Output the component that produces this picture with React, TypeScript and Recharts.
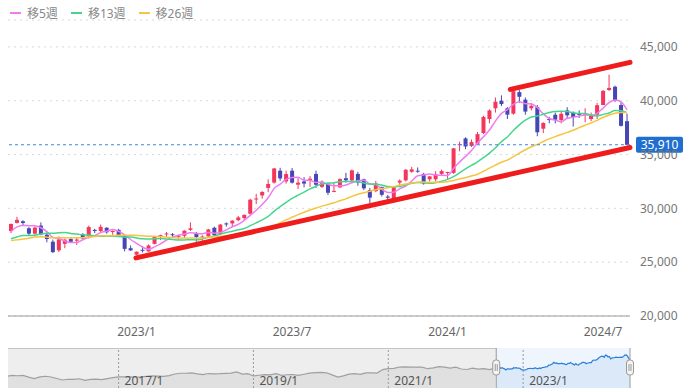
import {
  ComposedChart, Bar, Line, XAxis, YAxis, CartesianGrid, ReferenceLine,
  AreaChart, Area, ReferenceArea,
} from 'recharts'

// 週足 2022/8 - 2024/8
const weeks = [
  '2022-08-12', '2022-08-19', '2022-08-26', '2022-09-02', '2022-09-09', '2022-09-16', '2022-09-22', '2022-09-30',
  '2022-10-07', '2022-10-14', '2022-10-21', '2022-10-28', '2022-11-04', '2022-11-11', '2022-11-18', '2022-11-25',
  '2022-12-02', '2022-12-09', '2022-12-16', '2022-12-23', '2022-12-30',
  '2023-01-06', '2023-01-13', '2023-01-20', '2023-01-27', '2023-02-03', '2023-02-10', '2023-02-17', '2023-02-24',
  '2023-03-03', '2023-03-10', '2023-03-17', '2023-03-24', '2023-03-31', '2023-04-07', '2023-04-14', '2023-04-21',
  '2023-04-28', '2023-05-02', '2023-05-12', '2023-05-19', '2023-05-26', '2023-06-02', '2023-06-09', '2023-06-16',
  '2023-06-23', '2023-06-30', '2023-07-07', '2023-07-14', '2023-07-21', '2023-07-28', '2023-08-04', '2023-08-11',
  '2023-08-18', '2023-08-25', '2023-09-01', '2023-09-08', '2023-09-15', '2023-09-22', '2023-09-29', '2023-10-06',
  '2023-10-13', '2023-10-20', '2023-10-27', '2023-11-02', '2023-11-10', '2023-11-17', '2023-11-24', '2023-12-01',
  '2023-12-08', '2023-12-15', '2023-12-22', '2023-12-29',
  '2024-01-05', '2024-01-12', '2024-01-19', '2024-01-26', '2024-02-02', '2024-02-09', '2024-02-16', '2024-02-22',
  '2024-03-01', '2024-03-08', '2024-03-15', '2024-03-22', '2024-03-29', '2024-04-05', '2024-04-12', '2024-04-19',
  '2024-04-26', '2024-05-02', '2024-05-10', '2024-05-17', '2024-05-24', '2024-05-31', '2024-06-07', '2024-06-14',
  '2024-06-21', '2024-06-28', '2024-07-05', '2024-07-12', '2024-07-19', '2024-07-26', '2024-08-02',
]

const opens = [
  27900, 28650, 28800, 28150, 27650, 28400, 27550, 26900, 26100, 26700,
  27150, 27000, 27600, 27400, 28000, 27900, 28200, 27800, 28000, 27450,
  26300, 25700, 26150, 26000, 26700, 27400, 27600, 27600, 27400, 27450,
  28000, 27700, 27300, 27400, 28200, 27600, 28600, 28600, 28900, 29100,
  29500, 30900, 31200, 31900, 32400, 33500, 32500, 33500, 32200, 32500,
  32600, 33200, 32000, 32300, 31600, 31950, 32800, 32600, 33200, 32700,
  31700, 31600, 32000, 31100, 30700, 32400, 32600, 33400, 33500, 33200,
  32700, 32700, 33200, 33300, 33300, 35900, 36500, 35800, 36000, 37000,
  38300, 39300, 40000, 39300, 38800, 40800, 40100, 39300, 39400, 37400,
  38300, 38700, 38200, 39100, 38900, 38800, 38800, 38300, 38700, 39600,
  41000, 41300, 39600, 38100,
]
const highs = [
  28600, 29222, 28900, 28250, 28300, 28700, 27750, 27100, 27400, 27200,
  27300, 27250, 27700, 28400, 28100, 28500, 28250, 27950, 28100, 27500,
  26550, 26000, 26500, 26650, 27450, 27550, 27800, 27700, 27550, 27950,
  28700, 27800, 27500, 28100, 28300, 28550, 28700, 28900, 29300, 29450,
  30900, 31350, 31600, 32700, 33770, 33770, 33500, 33750, 32800, 32900,
  33000, 33500, 32600, 32400, 32350, 32800, 33300, 33600, 33400, 32750,
  31900, 32550, 32000, 31250, 32000, 32700, 33650, 33850, 33800, 33300,
  33000, 33450, 33600, 33400, 35600, 36200, 36600, 36400, 37100, 38600,
  39200, 40300, 40500, 39400, 41100, 41000, 40300, 39800, 39600, 38000,
  38500, 38900, 38950, 39400, 39000, 39100, 39300, 38900, 39800, 41000,
  42426, 41400, 39900, 38800,
]
const lows = [
  27700, 28600, 28400, 27500, 27550, 27500, 26850, 25850, 25950, 26300,
  26800, 26600, 27100, 27200, 27700, 27800, 27650, 27550, 27400, 26000,
  26050, 25660, 25900, 25980, 26650, 27050, 27350, 27300, 27100, 27250,
  27900, 26900, 26630, 27300, 27400, 27500, 28300, 28250, 28800, 28900,
  29400, 30400, 30900, 31500, 32300, 32550, 32300, 32300, 31800, 31950,
  32000, 31900, 31900, 31250, 31500, 31900, 32400, 32500, 32100, 31700,
  30500, 31500, 31100, 30550, 30550, 32000, 32500, 33300, 33300, 32200,
  32500, 32500, 33100, 32700, 33200, 35300, 35500, 35700, 35900, 36900,
  37900, 38900, 39500, 38300, 38700, 39800, 38700, 39100, 36700, 37000,
  37900, 37900, 37900, 38400, 37600, 38400, 38000, 38100, 38300, 39600,
  40900, 39900, 37600, 35880,
]
const closes = [
  28547, 28930, 28641, 27650, 28214, 27567, 27153, 25937, 27116, 27090,
  26891, 27105, 27199, 28263, 27899, 28283, 27777, 27901, 27527, 26235,
  26094, 25973, 26119, 26553, 27382, 27509, 27670, 27513, 27453, 27927,
  28143, 27333, 27385, 28041, 27518, 28493, 28564, 28856, 29157, 29388,
  30808, 30916, 31524, 32265, 33706, 32781, 33189, 32388, 32391, 32304,
  32759, 32193, 32473, 31450, 31624, 32710, 32606, 33533, 32402, 31858,
  30995, 32315, 31259, 30991, 31950, 32568, 33585, 33625, 33431, 32307,
  32970, 33169, 33464, 33377, 35577, 35963, 35751, 36158, 36897, 38487,
  39098, 39910, 39688, 38707, 40888, 40369, 38992, 39523, 37068, 37934,
  38236, 38229, 38787, 38646, 38487, 38683, 38814, 38596, 39583, 40912,
  41190, 40063, 37667, 35910,
]

// 移動平均（チャートから読み取り）
const ma5 = [
  27845, 28273, 28419, 28389, 28396, 28200, 27845, 27304, 27197, 26973,
  26837, 26828, 27080, 27310, 27471, 27750, 27884, 28025, 27877, 27545,
  27107, 26746, 26390, 26195, 26424, 26707, 27047, 27325, 27505, 27614,
  27741, 27674, 27648, 27766, 27684, 27754, 28000, 28294, 28518, 28892,
  29355, 29825, 30359, 30980, 31844, 32238, 32693, 32866, 32891, 32611,
  32606, 32407, 32424, 32236, 32100, 32090, 32173, 32385, 32575, 32622,
  32279, 32221, 31766, 31484, 31502, 31817, 32071, 32544, 33032, 33103,
  33184, 33100, 33068, 33057, 33711, 34310, 34826, 35365, 36069, 36651,
  37278, 38110, 38816, 39178, 39658, 39912, 39729, 39696, 39368, 38777,
  38351, 38198, 38051, 38366, 38477, 38566, 38683, 38645, 38833, 39318,
  39819, 40069, 39883, 39148,
]
const ma13 = [
  27172, 27341, 27484, 27475, 27505, 27628, 27679, 27680, 27726, 27749,
  27670, 27617, 27542, 27520, 27440, 27413, 27423, 27399, 27395, 27325,
  27337, 27249, 27174, 27148, 27170, 27193, 27148, 27118, 27054, 27066,
  27084, 27069, 27158, 27308, 27427, 27609, 27764, 27877, 28004, 28136,
  28390, 28656, 28933, 29250, 29740, 30155, 30551, 30926, 31226, 31513,
  31814, 32047, 32284, 32334, 32388, 32479, 32506, 32492, 32463, 32361,
  32254, 32248, 32167, 32031, 32013, 32020, 32184, 32338, 32394, 32371,
  32327, 32386, 32510, 32693, 32944, 33306, 33672, 33996, 34329, 34706,
  35127, 35625, 36193, 36634, 37228, 37759, 38191, 38495, 38580, 38748,
  38907, 39010, 39033, 38998, 38889, 38811, 38820, 38643, 38583, 38731,
  38859, 39089, 39069, 38890,
]
const ma26 = [
  27003, 27073, 27156, 27220, 27337, 27366, 27328, 27261, 27266, 27266,
  27258, 27268, 27275, 27346, 27390, 27448, 27449, 27452, 27512, 27502,
  27508, 27487, 27462, 27409, 27393, 27367, 27334, 27279, 27234, 27244,
  27242, 27233, 27241, 27322, 27338, 27392, 27456, 27523, 27599, 27642,
  27754, 27855, 27999, 28167, 28405, 28657, 28929, 29176, 29417, 29639,
  29845, 30026, 30210, 30362, 30522, 30706, 30878, 31116, 31309, 31456,
  31590, 31737, 31840, 31922, 32030, 32152, 32259, 32363, 32437, 32438,
  32410, 32425, 32435, 32473, 32596, 32737, 32852, 33004, 33174, 33445,
  33732, 34010, 34282, 34481, 34807, 35135, 35442, 35719, 35943, 36210,
  36452, 36669, 36869, 37063, 37257, 37502, 37727, 37936, 38171, 38461,
  38677, 38834, 38908, 38899,
]

const maKeys = ['ma5', 'ma13', 'ma26']
const maNames = ['移5週', '移13週', '移26週']

const tickWeeks = ['2023-01-06', '2023-07-07', '2024-01-05', '2024-07-05']
const tickLabels = ['2023/1', '2023/7', '2024/1', '2024/7']
const priceTicks = [20000, 25000, 30000, 35000, 40000, 45000]

// トレンドライン（x は週のインデックス）
const supportLine = [{ x: 20.9, y: 25400 }, { x: 103.5, y: 35650 }]
const resistLine = [{ x: 83.5, y: 41050 }, { x: 103.5, y: 43560 }]

// ナビゲーター（月末値）
const navMonths = [
  '2015-04', '2015-05', '2015-06', '2015-07', '2015-08', '2015-09', '2015-10', '2015-11', '2015-12',
  '2016-01', '2016-02', '2016-03', '2016-04', '2016-05', '2016-06', '2016-07', '2016-08', '2016-09', '2016-10', '2016-11', '2016-12',
  '2017-01', '2017-02', '2017-03', '2017-04', '2017-05', '2017-06', '2017-07', '2017-08', '2017-09', '2017-10', '2017-11', '2017-12',
  '2018-01', '2018-02', '2018-03', '2018-04', '2018-05', '2018-06', '2018-07', '2018-08', '2018-09', '2018-10', '2018-11', '2018-12',
  '2019-01', '2019-02', '2019-03', '2019-04', '2019-05', '2019-06', '2019-07', '2019-08', '2019-09', '2019-10', '2019-11', '2019-12',
  '2020-01', '2020-02', '2020-03', '2020-04', '2020-05', '2020-06', '2020-07', '2020-08', '2020-09', '2020-10', '2020-11', '2020-12',
  '2021-01', '2021-02', '2021-03', '2021-04', '2021-05', '2021-06', '2021-07', '2021-08', '2021-09', '2021-10', '2021-11', '2021-12',
  '2022-01', '2022-02', '2022-03', '2022-04', '2022-05', '2022-06', '2022-07',
]
const navCloses = [
  19520, 20563, 20236, 20585, 18890, 17388, 19083, 19747, 19034,
  17518, 16027, 16759, 16666, 17235, 15576, 16569, 16887, 16450, 17425, 18308, 19114,
  19041, 19119, 18909, 19197, 19651, 20033, 19925, 19646, 20356, 22012, 22725, 22765,
  23098, 22068, 21454, 22468, 22202, 22305, 22554, 22865, 24120, 21920, 22351, 20015,
  20773, 21385, 21206, 22259, 20601, 21276, 21522, 20704, 21756, 22927, 23294, 23657,
  23205, 21143, 18917, 20194, 21878, 22288, 21710, 23140, 23185, 22977, 26434, 27444,
  27663, 28966, 29179, 28813, 28860, 28792, 27284, 28090, 29453, 28893, 27822, 28792,
  27002, 26527, 27821, 26848, 27280, 26393, 27802,
]
const navYears = [2017, 2019, 2021, 2023]
const navYearLabels = ['2017/1', '2019/1', '2021/1', '2023/1']

const UP = '#f4365c'
const DOWN = '#4646b6'
const MA_COLORS = ['#ef7cef', '#45d68e', '#f5c440']
const TREND = '#ee1c1c'
const FONT = "'Noto Sans', 'Noto Sans CJK JP', sans-serif"

const toYear = (s: string) => {
  const [y, m, d] = s.split('-').map(Number)
  const start = Date.UTC(y, 0, 1)
  return y + (Date.UTC(y, m - 1, d) - start) / (Date.UTC(y + 1, 0, 1) - start)
}
const monthEnd = (s: string) => {
  const [y, m] = s.split('-').map(Number)
  return y + m / 12
}

const lastIdx = weeks.length - 1
const lastClose = closes[lastIdx]
const tickIdx = tickWeeks.map(w => weeks.indexOf(w))

const rows = weeks.map((w, i) => ({
  idx: i, week: w,
  open: opens[i], high: highs[i], low: lows[i], close: closes[i],
  ma5: ma5[i], ma13: ma13[i], ma26: ma26[i],
}))

const navDomain = [2015.36, toYear(weeks[lastIdx])]
const selStart = toYear(weeks[0]) - 0.01
const navRows = [
  ...navMonths.map((m, i) => ({ year: monthEnd(m), gray: navCloses[i] })),
  ...weeks.map((w, i) => ({ year: toYear(w), blue: closes[i] })),
]

function Candle(props: any) {
  const { x, y, width, height, payload } = props
  if (!payload || !height) return null
  const { open, close, high, low } = payload
  const color = close >= open ? UP : DOWN
  const k = height / (high - low)
  const top = y + (high - Math.max(open, close)) * k
  const bottom = y + (high - Math.min(open, close)) * k
  const cx = x + width / 2
  return (
    <g>
      <line x1={cx} x2={cx} y1={y} y2={y + height} stroke={color} strokeWidth={1} />
      <rect x={x} y={top} width={width} height={Math.max(1, bottom - top)} fill={color} />
    </g>
  )
}

function PriceTag(props: any) {
  const vb = props.viewBox ?? {}
  const x = vb.x + vb.width + 6
  const y = vb.y
  return (
    <g>
      <rect x={x} y={y - 8} width={47} height={16} rx={2} fill="#1f6fd0" />
      <text x={x + 23.5} y={y + 4.5} textAnchor="middle" fill="#fff" fontSize={12}>
        {lastClose.toLocaleString('en-US')}
      </text>
    </g>
  )
}

function YearLabel(props: any) {
  const vb = props.viewBox ?? {}
  return (
    <text x={vb.x + 6} y={vb.y + vb.height - 3} fill="#555" fontSize={12}>
      {props.text}
    </text>
  )
}

function Handle(props: any) {
  const vb = props.viewBox ?? {}
  const x = vb.x
  const y = vb.y + 12
  return (
    <g>
      <rect x={x - 3.5} y={y} width={7} height={15} rx={3} fill="#f4f4f4" stroke="#999" />
      <line x1={x - 1} x2={x - 1} y1={y + 4} y2={y + 11} stroke="#999" />
      <line x1={x + 1} x2={x + 1} y1={y + 4} y2={y + 11} stroke="#999" />
    </g>
  )
}

export default function App() {
  return (
    <div style={{ position: 'fixed', left: 0, top: 0, width: 690, height: 388, overflow: 'hidden', background: '#fff', fontFamily: FONT }}>
      {/* 凡例 */}
      <div style={{ position: 'absolute', top: 6, left: 10, height: 14, display: 'flex', alignItems: 'center', fontSize: 12, color: '#888' }}>
        {maNames.map((name, i) => (
          <span key={name} style={{ display: 'flex', alignItems: 'center', marginRight: 13 }}>
            <span style={{ display: 'inline-block', width: 11, height: 2, background: MA_COLORS[i], marginRight: 6 }} />
            {name}
          </span>
        ))}
      </div>

      <div style={{ position: 'absolute', top: 0, left: 0 }}>
        <ComposedChart width={690} height={346} data={rows} margin={{ top: 20, right: 8, bottom: 0, left: 8 }}>
          <CartesianGrid vertical={false} strokeDasharray="2 4" stroke="#d8d8d8" />
          <XAxis
            dataKey="idx" type="number" domain={[-0.5, lastIdx + 0.5]} ticks={tickIdx} interval={0}
            tickFormatter={(v: number) => tickLabels[tickIdx.indexOf(v)]}
            tickLine={false} tickMargin={5} axisLine={{ stroke: '#999' }}
            tick={{ fontSize: 12, fill: '#666' }} height={30}
          />
          <YAxis
            orientation="right" domain={[20000, 47500]} ticks={priceTicks} width={52}
            axisLine={false} tickLine={false} tickSize={6} tickMargin={4}
            tickFormatter={(v: number) => v.toLocaleString('en-US')}
            tick={{ fontSize: 12, fill: '#777' }}
          />
          <Bar dataKey={(d: any) => [d.low, d.high]} barSize={4} shape={Candle} isAnimationActive={false} />
          {maKeys.map((k, i) => (
            <Line key={k} dataKey={k} type="monotone" stroke={MA_COLORS[i]} strokeWidth={1.5} dot={false} isAnimationActive={false} />
          ))}
          <ReferenceLine y={lastClose} stroke="#3d86e0" strokeDasharray="3 3" label={(p: any) => <PriceTag {...p} />} />
          <ReferenceLine segment={supportLine} stroke={TREND} strokeWidth={5} strokeLinecap="round" ifOverflow="visible" />
          <ReferenceLine segment={resistLine} stroke={TREND} strokeWidth={5} strokeLinecap="round" ifOverflow="visible" />
        </ComposedChart>
      </div>

      {/* ナビゲーター */}
      <div style={{ position: 'absolute', top: 348, left: 0 }}>
        <AreaChart width={690} height={40} data={navRows} margin={{ top: 0, right: 60, bottom: 0, left: 8 }}>
          <XAxis dataKey="year" type="number" domain={navDomain} allowDataOverflow hide />
          <YAxis domain={[8000, 48000]} allowDataOverflow hide />
          <ReferenceArea x1={navDomain[0]} x2={selStart} fill="#eeeeee" fillOpacity={1} />
          <ReferenceArea x1={selStart} x2={navDomain[1]} fill="#eef5fd" fillOpacity={1} />
          <Area dataKey="gray" type="linear" stroke="#a0a0a0" strokeWidth={1.2} fill="#e0e0e0" fillOpacity={1} connectNulls dot={false} isAnimationActive={false} />
          <Area dataKey="blue" type="linear" stroke="#2c7fd9" strokeWidth={1.2} fill="#dce9f8" fillOpacity={1} connectNulls dot={false} isAnimationActive={false} />
          {navYears.map((yr, i) => (
            <ReferenceLine
              key={yr} x={yr} stroke="#999" strokeDasharray="2 2"
              label={(p: any) => <YearLabel {...p} text={navYearLabels[i]} />}
            />
          ))}
          <ReferenceLine segment={[{ x: navDomain[0], y: 48000 }, { x: selStart, y: 48000 }]} stroke="#999" />
          <ReferenceLine x={selStart} stroke="#999" label={(p: any) => <Handle {...p} />} />
          <ReferenceLine x={navDomain[1]} stroke="#999" label={(p: any) => <Handle {...p} />} />
        </AreaChart>
      </div>
    </div>
  )
}
